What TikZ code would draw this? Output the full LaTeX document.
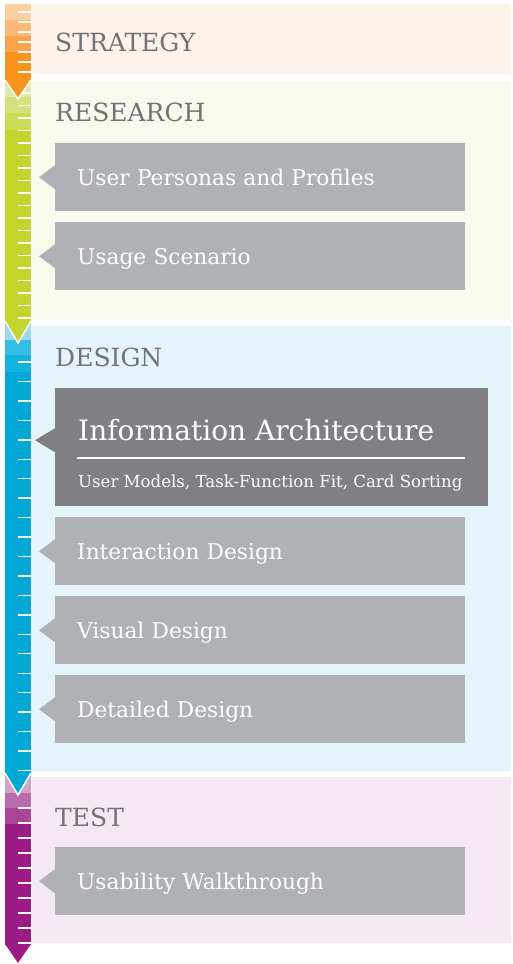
\documentclass[tikz,border=0pt]{standalone}
\usepackage{fontspec}
\setmainfont{DejaVu Serif}
\usepackage{tikz}
\usepackage{xcolor}
\definecolor{stratpanel}{HTML}{FDF3E8}
\definecolor{respanel}{HTML}{F8FAEE}
\definecolor{despanel}{HTML}{E5F3FA}
\definecolor{testpanel}{HTML}{F4E8F2}
\definecolor{orangeA}{HTML}{FDCFA0}
\definecolor{orangeB}{HTML}{FCB877}
\definecolor{orangeC}{HTML}{FAA450}
\definecolor{orangeD}{HTML}{F7941E}
\definecolor{greenA}{HTML}{E0E9A6}
\definecolor{greenB}{HTML}{D5E17D}
\definecolor{greenC}{HTML}{CCDB56}
\definecolor{greenD}{HTML}{C3D42E}
\definecolor{blueA}{HTML}{9DD8EE}
\definecolor{blueB}{HTML}{33BDE3}
\definecolor{blueC}{HTML}{14B2DE}
\definecolor{blueD}{HTML}{00A8D6}
\definecolor{plumA}{HTML}{D0A3CA}
\definecolor{plumB}{HTML}{B86CAB}
\definecolor{plumC}{HTML}{A94599}
\definecolor{plumD}{HTML}{9C1C86}
\definecolor{titlegray}{HTML}{727275}
\definecolor{notegray}{HTML}{B0B1B5}
\definecolor{iagray}{HTML}{808084}
\tikzstyle{phasetitle} = [anchor=base west, inner sep=0pt, text=titlegray, font=\fontsize{25}{25}\selectfont]
\tikzstyle{stepnote} = [anchor=north west, fill=notegray, text=white, minimum width=410pt, minimum height=68pt, text width=366pt, inner xsep=22pt, inner ysep=0pt, align=left, text height=15.8pt, text depth=0pt, font=\fontsize{21.7}{21.7}\selectfont]
\tikzstyle{iabox} = [anchor=north west, fill=iagray, minimum width=433pt, minimum height=118pt, inner sep=0pt]
\tikzstyle{ruletick} = [white, line width=1.4pt]
\tikzstyle{barhead} = [draw=white, line width=1.5pt, line join=miter]

\begin{document}
\begin{tikzpicture}[x=1pt, y=-1pt]
\useasboundingbox (0,0) rectangle (512,964);
% panels
\fill[stratpanel] (32,4) rectangle (511,74);
\fill[respanel] (32,81) rectangle (511,320);
\fill[despanel] (32,326) rectangle (511,771);
\fill[testpanel] (32,777) rectangle (511,943);

% bars
\fill[orangeD] (5,4) rectangle (31,80);
\fill[orangeA] (5,4) rectangle (31,20);
\fill[orangeB] (5,20) rectangle (31,36);
\fill[orangeC] (5,36) rectangle (31,52);
\fill[greenD] (5,80) rectangle (31,321);
\fill[greenA] (5,80) rectangle (31,97);
\fill[greenB] (5,97) rectangle (31,113);
\fill[greenC] (5,113) rectangle (31,130);
\fill[blueD] (5,321) rectangle (31,773);
\fill[blueA] (5,321) rectangle (31,340);
\fill[blueB] (5,340) rectangle (31,355);
\fill[blueC] (5,355) rectangle (31,372);
\fill[plumD] (5,773) rectangle (31,945);
\fill[plumA] (5,773) rectangle (31,793);
\fill[plumB] (5,793) rectangle (31,808);
\fill[plumC] (5,808) rectangle (31,824);

% ticks
\foreach \y in {12,22,...,72} \draw[ruletick] (18,\y) -- (31,\y);
\foreach \y in {93,105.5,...,319} \draw[ruletick] (18,\y) -- (31,\y);
\foreach \y in {362,381.45,...,772} \draw[ruletick] (18,\y) -- (31,\y);
\foreach \y in {808,823,...,944} \draw[ruletick] (18,\y) -- (31,\y);

% arrow heads
\filldraw[fill=orangeD, barhead] (5,80) -- (18,99) -- (31,80);
\filldraw[fill=greenD, barhead] (5,321) -- (18,343) -- (31,321);
\filldraw[fill=blueD, barhead] (5,773) -- (18,795) -- (31,773);
\fill[plumD] (5,944) -- (18,963) -- (31,944) -- cycle;

% phase titles
\node[phasetitle] (strategy) at (55,51) {STRATEGY};
\node[phasetitle] (research) at (55,121) {RESEARCH};
\node[phasetitle] (design) at (55,366) {DESIGN};
\node[phasetitle] (test) at (55,826) {TEST};

% steps
\node[stepnote] (personas) at (55,143) {User Personas and Profiles};
\node[stepnote] (scenario) at (55,222) {Usage Scenario};
\node[stepnote] (interaction) at (55,517) {Interaction Design};
\node[stepnote] (visual) at (55,596) {Visual Design};
\node[stepnote] (detailed) at (55,675) {Detailed Design};
\node[stepnote] (walkthrough) at (55,847) {Usability Walkthrough};
\foreach \n in {personas,scenario,interaction,visual,detailed,walkthrough}
  \fill[notegray] ([yshift=12pt]\n.west) -- ([xshift=-16pt]\n.west) -- ([yshift=-12pt]\n.west) -- cycle;

% information architecture
\node[iabox] (ia) at (55,388) {};
\fill[iagray] ([yshift=19pt]ia.west) -- ([xshift=-20pt,yshift=7pt]ia.west) -- ([yshift=-5pt]ia.west) -- cycle;
\node[anchor=base west, inner sep=0pt, text=white, font=\fontsize{28}{28}\selectfont] (ia-title) at (78,440) {Information Architecture};
\draw[white, line width=1.5pt] (77,458) -- (465,458);
\node[anchor=base west, inner sep=0pt, text=white, font=\fontsize{16.6}{16.6}\selectfont] (ia-sub) at (78,487) {User Models, Task-Function Fit, Card Sorting};
\end{tikzpicture}
\end{document}
